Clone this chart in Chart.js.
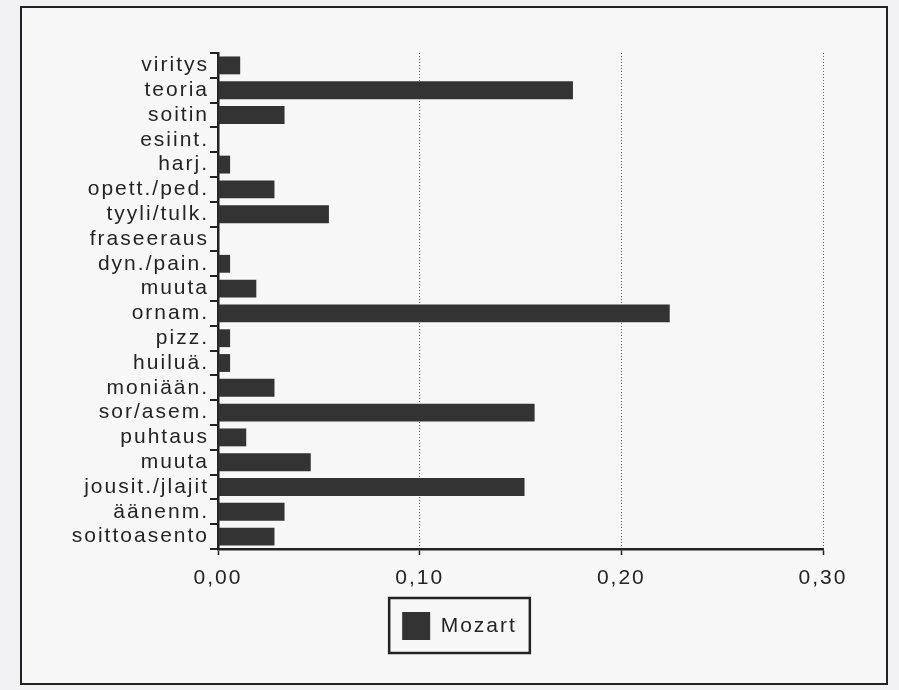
<!DOCTYPE html>
<html>
<head>
<meta charset="utf-8">
<script src="https://cdn.jsdelivr.net/npm/chart.js@4"></script>
<style>
  body { margin: 0; background: #f2f2f4; }
  #frame {
    position: absolute; left: 20px; top: 6px;
    width: 864px; height: 675px;
    border: 2.5px solid #222; background: #f7f7f8;
  }
  #wrap { position: absolute; left: 0; top: 0; width: 874px; height: 675px; }
</style>
</head>
<body>
<div id="frame"><div id="wrap"><canvas id="barChart"></canvas></div></div>
<script>
// categories, top to bottom
const categories = [
    "viritys", "teoria", "soitin", "esiint.", "harj.", "opett./ped.", "tyyli/tulk.",
    "fraseeraus", "dyn./pain.", "muuta", "ornam.", "pizz.", "huiluä.", "moniään.",
    "sor/asem.", "puhtaus", "muuta", "jousit./jlajit", "äänenm.", "soittoasento"
];
// Mozart share per category
const mozartValues = [
    0.011, 0.176, 0.033, 0, 0.006, 0.028, 0.055,
    0, 0.006, 0.019, 0.224, 0.006, 0.006, 0.028,
    0.157, 0.014, 0.046, 0.152, 0.033, 0.028
];
const xTicks = [0, 0.1, 0.2, 0.3];
const seriesName = "Mozart";

const textColor = "#242424";
const fontFamily = "'Liberation Sans', Arial, sans-serif";
const legendShift = 37; // legend sits a little right of the canvas centre

// canvas text gets a bit of letter spacing like the printed chart
const spacingPlugin = {
    id: "spacing",
    beforeUpdate(chart) { chart.ctx.letterSpacing = "2px"; },
    beforeDraw(chart) { chart.ctx.letterSpacing = "2px"; }
};

// move the legend and draw the frame round it
const legendBoxPlugin = {
    id: "legendBox",
    afterLayout(chart) {
        chart.legend._shifted = false;
    },
    beforeDraw(chart) {
        const lg = chart.legend;
        if (!lg._shifted) {
            lg.left += legendShift;
            lg.right += legendShift;
            lg._shifted = true;
        }
    },
    afterDraw(chart) {
        const hb = chart.legend.legendHitBoxes[0];
        if (!hb) return;
        const ctx = chart.ctx;
        ctx.save();
        ctx.strokeStyle = "#222";
        ctx.lineWidth = 2.5;
        ctx.strokeRect(hb.left + legendShift - 13, hb.top - 14, hb.width + 26, hb.height + 27);
        ctx.restore();
    }
};

const ctx = document.getElementById("barChart").getContext("2d");
const barChart = new Chart(ctx, {
    type: "bar",
    data: {
        labels: categories,
        datasets: [{
            label: seriesName,
            data: mozartValues,
            backgroundColor: "#333",
            borderWidth: 0,
            barPercentage: 0.72,
            categoryPercentage: 1
        }]
    },
    options: {
        indexAxis: "y",
        responsive: true,
        maintainAspectRatio: false,
        animation: false,
        layout: { padding: { top: 45, right: 73, left: 0, bottom: 33 } },
        scales: {
            x: {
                min: 0,
                max: 0.3,
                afterBuildTicks: scale => { scale.ticks = xTicks.map(v => ({ value: v })); },
                afterFit: scale => { scale.height = 53; },
                grid: {
                    color: "#666",
                    lineWidth: 1,
                    tickColor: "#222",
                    tickLength: 6,
                    tickWidth: 1.5
                },
                // in v4 the dash of the grid lines comes from border.dash
                border: { display: true, color: "#222", width: 2.5, dash: [1, 2] },
                ticks: {
                    color: textColor,
                    padding: 11,
                    font: { family: fontFamily, size: 21 },
                    callback: v => v.toFixed(2).replace(".", ",")
                }
            },
            y: {
                afterFit: scale => { scale.width = 196; },
                grid: {
                    offset: true,
                    drawOnChartArea: false,
                    color: "#222",
                    lineWidth: 2,
                    tickLength: 8
                },
                border: { display: true, color: "#222", width: 2.5 },
                ticks: {
                    color: textColor,
                    padding: 1,
                    autoSkip: false,
                    font: { family: fontFamily, size: 21 }
                }
            }
        },
        plugins: {
            legend: {
                position: "bottom",
                labels: {
                    boxWidth: 28,
                    boxHeight: 28,
                    padding: 10,
                    color: textColor,
                    font: { family: fontFamily, size: 21 }
                }
            },
            tooltip: { enabled: false }
        }
    },
    plugins: [spacingPlugin, legendBoxPlugin]
});
</script>
</body>
</html>
